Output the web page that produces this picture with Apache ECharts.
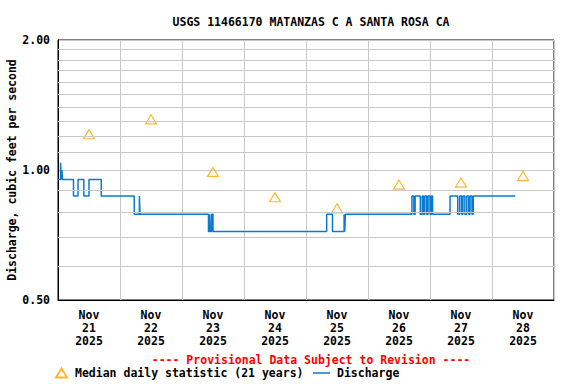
<!DOCTYPE html>
<html>
<head>
<meta charset="utf-8">
<script src="https://cdn.jsdelivr.net/npm/echarts@6/dist/echarts.min.js"></script>
<style>html,body{margin:0;padding:0;background:#fff}#c{width:576px;height:384px}</style>
</head>
<body>
<div id="c"></div>
<script>
const titleText = 'USGS 11466170 MATANZAS C A SANTA ROSA CA';
const yAxisTitle = 'Discharge, cubic feet per second';
const provisionalText = '---- Provisional Data Subject to Revision ----';
const medianName = 'Median daily statistic (21 years)';
const dischargeName = 'Discharge';

const days = ['2025-11-21','2025-11-22','2025-11-23','2025-11-24','2025-11-25','2025-11-26','2025-11-27','2025-11-28'];
const medianValues = [1.21, 1.31, 0.99, 0.865, 0.815, 0.925, 0.935, 0.968];

const dischargeTimes = [
 '2025-11-21T00:00','2025-11-21T01:00','2025-11-21T01:15','2025-11-21T01:30','2025-11-21T01:45',
 '2025-11-21T06:00','2025-11-21T07:45','2025-11-21T10:00','2025-11-21T12:00','2025-11-21T16:45',
 '2025-11-22T05:30','2025-11-22T07:30','2025-11-22T07:45',
 '2025-11-23T10:15','2025-11-23T10:45','2025-11-23T11:00','2025-11-23T11:30','2025-11-23T12:00',
 '2025-11-25T08:00','2025-11-25T10:15','2025-11-25T14:45','2025-11-25T15:00','2025-11-25T15:15',
 '2025-11-26T17:00','2025-11-26T17:45','2025-11-26T18:15','2025-11-26T20:15','2025-11-26T21:00',
 '2025-11-26T21:30','2025-11-26T22:00','2025-11-26T22:45','2025-11-26T23:15',
 '2025-11-27T00:00','2025-11-27T00:30','2025-11-27T01:00','2025-11-27T07:45','2025-11-27T10:45',
 '2025-11-27T11:30','2025-11-27T12:15','2025-11-27T12:45','2025-11-27T13:30','2025-11-27T14:15',
 '2025-11-27T15:00','2025-11-27T15:30','2025-11-27T16:15','2025-11-27T16:45','2025-11-28T09:00'
];
const dischargeValues = [
 0.95,1.04,0.95,1.0,0.95,
 0.87,0.95,0.87,0.95,0.87,
 0.79,0.87,0.79,
 0.72,0.79,0.72,0.79,0.72,
 0.79,0.72,0.79,0.72,0.79,
 0.87,0.79,0.87,0.79,0.87,
 0.79,0.87,0.79,0.87,
 0.79,0.87,0.79,0.87,0.79,
 0.87,0.79,0.87,0.79,0.87,
 0.79,0.87,0.79,0.87,0.87
];

const yMin = 0.5, yMax = 2.0;
const minorGridValues = [0.6,0.7,0.8,0.9,1.1,1.2,1.3,1.4,1.5,1.6,1.7,1.8,1.9];
const xStart = '2025-11-21T00:00', xEnd = '2025-11-29T00:00';
const monthNames = ['Jan','Feb','Mar','Apr','May','Jun','Jul','Aug','Sep','Oct','Nov','Dec'];

const ms = s => new Date(s).getTime();
const DAY = 86400000;
const FONT = '"DejaVu Sans Mono", "Liberation Mono", monospace';
const GRID = '#c8c8c8';
const BLUE = '#0a7bd0';

const chart = echarts.init(document.getElementById('c'), null, {renderer: 'svg'});
chart.setOption({
  animation: false,
  backgroundColor: '#fff',
  title: [
    {text: titleText, left: 306, top: 11, textAlign: 'center',
     textStyle: {fontFamily: FONT, fontWeight: 'bold', fontSize: 11.5, color: '#000'}},
    {text: provisionalText, left: 306, top: 349, textAlign: 'center',
     textStyle: {fontFamily: FONT, fontWeight: 'bold', fontSize: 11.5, color: '#ff0000'}}
  ],
  legend: [
    {data: [{name: medianName, icon: 'triangle'}], left: 55, top: 367, padding: 0, itemWidth: 11, itemHeight: 9, itemGap: 0,
     textStyle: {fontFamily: FONT, fontWeight: 'bold', fontSize: 11.5, color: '#000', padding: [0,0,0,3]}},
    {data: [{name: dischargeName, icon: 'rect', itemStyle: {color: BLUE}}], left: 313, top: 367, padding: 0, itemWidth: 17, itemHeight: 1.5, itemGap: 0,
     textStyle: {fontFamily: FONT, fontWeight: 'bold', fontSize: 11.5, color: '#000', padding: [0,0,0,2]}}
  ],
  grid: {left: 58, right: 22, top: 40, bottom: 84, outerBoundsMode: 'none', containLabel: false,
    show: true, borderColor: '#000', borderWidth: 1, backgroundColor: 'transparent'},
  xAxis: {
    type: 'value', min: ms(xStart), max: ms(xEnd), interval: DAY,
    axisLine: {show: true, lineStyle: {color: '#000', width: 1}},
    axisTick: {show: false},
    splitLine: {show: true, lineStyle: {color: GRID, width: 1}},
    axisLabel: {
      customValues: days.map(d => ms(d + 'T12:00')),
      margin: 8, lineHeight: 13,
      fontFamily: FONT, fontWeight: 'bold', fontSize: 11.5, color: '#000',
      formatter: v => { const d = new Date(v); return monthNames[d.getMonth()] + '\n' + d.getDate() + '\n' + d.getFullYear(); }
    }
  },
  yAxis: {
    type: 'log', logBase: 2, min: yMin, max: yMax, interval: 1,
    name: yAxisTitle, nameLocation: 'middle', nameGap: 40, nameRotate: 90, nameMoveOverlap: false,
    nameTextStyle: {fontFamily: FONT, fontWeight: 'bold', fontSize: 11.5, color: '#000'},
    axisLine: {show: true, lineStyle: {color: '#000', width: 1}},
    axisTick: {show: false},
    splitLine: {show: true, lineStyle: {color: GRID, width: 1}},
    axisLabel: {margin: 8, fontFamily: FONT, fontWeight: 'bold', fontSize: 11.5, color: '#000',
      formatter: v => Number(v).toFixed(2)}
  },
  series: [
    {
      type: 'line', name: '_grid', data: [], silent: true, z: 1,
      markLine: {silent: true, symbol: ['none','none'], label: {show: false}, animation: false,
        lineStyle: {type: 'solid', color: GRID, width: 1},
        emphasis: {disabled: true},
        data: minorGridValues.map(v => ({yAxis: v}))}
    },
    {
      type: 'line', name: dischargeName, step: 'end', symbol: 'none', showSymbol: false, z: 3,
      lineStyle: {color: BLUE, width: 1.5}, itemStyle: {color: BLUE},
      data: dischargeTimes.map((t, i) => [ms(t), dischargeValues[i]])
    },
    {
      type: 'scatter', name: medianName, symbol: 'triangle', symbolSize: [11, 9], z: 4,
      itemStyle: {color: 'rgba(255,255,255,0)', borderColor: '#ffa500', borderWidth: 1.2},
      data: days.map((d, i) => [ms(d + 'T12:00'), medianValues[i]])
    }
  ]
});
</script>
</body>
</html>
